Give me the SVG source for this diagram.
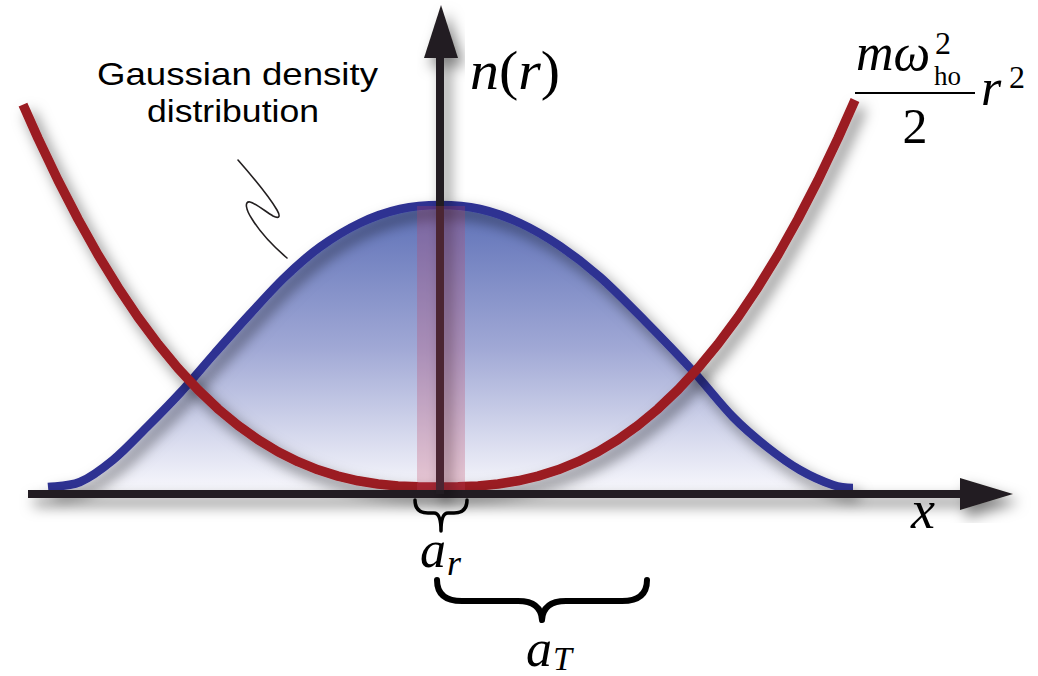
<svg xmlns="http://www.w3.org/2000/svg" width="1038" height="676" viewBox="0 0 1038 676">
<defs>
<linearGradient id="gfill" gradientUnits="userSpaceOnUse" x1="0" y1="205" x2="0" y2="490">
<stop offset="0" stop-color="#5d70b7"/>
<stop offset="0.5" stop-color="#a0a8d5"/>
<stop offset="1" stop-color="#f7f7fc"/>
</linearGradient>
<filter id="sh" x="-20%" y="-20%" width="140%" height="160%">
<feDropShadow dx="6" dy="8" stdDeviation="7" flood-color="#000" flood-opacity="0.5"/>
</filter>
</defs>
<style>
.math{font-family:"Liberation Serif","DejaVu Serif",serif;fill:#000}
.it{font-style:italic}
.sans{font-family:"Liberation Sans",Arial,sans-serif;fill:#000}
.blue{fill:none;stroke:#2e3192;stroke-width:8.5;stroke-linejoin:round}
.red{fill:none;stroke:#9b1b20;stroke-width:9.5;stroke-linejoin:round}
.axis{stroke:#231f20;stroke-width:8;fill:none}
.head{fill:#231f20}
.brace{fill:none;stroke:#000;stroke-linejoin:round;stroke-linecap:round}
</style>
<rect width="1038" height="676" fill="#fff"/>

<g id="gaussian">
<path fill="url(#gfill)" d="M48,487 C58,486 69.17,486.5 80,482 C90.83,477.5 101.83,469.17 113,460 C124.17,450.83 135.83,438.17 147,427 C158.17,415.83 168.67,405.33 180,393 C191.33,380.67 203.33,366.17 215,353 C226.67,339.83 238.33,326.67 250,314 C261.67,301.33 273.33,288.17 285,277 C296.67,265.83 307.5,256 320,247 C332.5,238 346.67,229.33 360,223 C373.33,216.67 386.67,212 400,209 C413.33,206 426.67,205 440,205 C453.33,205 466.67,206 480,209 C493.33,212 506.67,216.83 520,223 C533.33,229.17 546.67,237 560,246 C573.33,255 585.67,264.33 600,277 C614.33,289.67 630.67,306.5 646,322 C661.33,337.5 677.5,354.17 692,370 C706.5,385.83 720.5,404.17 733,417 C745.5,429.83 755.83,438.17 767,447 C778.17,455.83 789,463.67 800,470 C811,476.33 824.17,482 833,485 C841.83,488 847,488 853,488 L853,490 L48,490 Z"/>
<path class="blue" filter="url(#sh)" d="M48,487 C58,486 69.17,486.5 80,482 C90.83,477.5 101.83,469.17 113,460 C124.17,450.83 135.83,438.17 147,427 C158.17,415.83 168.67,405.33 180,393 C191.33,380.67 203.33,366.17 215,353 C226.67,339.83 238.33,326.67 250,314 C261.67,301.33 273.33,288.17 285,277 C296.67,265.83 307.5,256 320,247 C332.5,238 346.67,229.33 360,223 C373.33,216.67 386.67,212 400,209 C413.33,206 426.67,205 440,205 C453.33,205 466.67,206 480,209 C493.33,212 506.67,216.83 520,223 C533.33,229.17 546.67,237 560,246 C573.33,255 585.67,264.33 600,277 C614.33,289.67 630.67,306.5 646,322 C661.33,337.5 677.5,354.17 692,370 C706.5,385.83 720.5,404.17 733,417 C745.5,429.83 755.83,438.17 767,447 C778.17,455.83 789,463.67 800,470 C811,476.33 824.17,482 833,485 C841.83,488 847,488 853,488"/>
</g>

<g id="potential">
<polyline class="red" filter="url(#sh)" points="23,104.6 38,138.2 58,180.2 78,219 98,254.7 118,287.3 138,317.1 158,344 178,368.2 198,389.7 218,408.8 238,425.3 258,439.6 278,451.7 298,461.7 318,469.8 338,476.1 358,480.8 378,484 398,485.9 418,486.8 438,487 458,486.8 478,485.9 498,484 518,480.8 538,476.1 558,469.8 578,461.7 598,451.7 618,439.6 638,425.3 658,408.8 678,389.7 698,368.2 718,344 738,317.1 758,287.3 778,254.7 798,219 818,180.2 838,138.2 855,100"/>
</g>

<g id="x-axis" filter="url(#sh)">
<line class="axis" x1="28" y1="494" x2="962" y2="494"/>
<polygon class="head" points="960,478 1013,494 960,510"/>
</g>

<g id="n-axis" filter="url(#sh)">
<line class="axis" x1="440" y1="494" x2="440" y2="56"/>
<polygon class="head" points="424,58 441,5 458,58"/>
</g>

<g id="central-band">
<rect x="417" y="206" width="48" height="284" fill="#c24262" fill-opacity="0.26"/>
</g>

<g id="label-n"><text class="math" x="470" y="89" font-size="54" textLength="90" lengthAdjust="spacingAndGlyphs"><tspan class="it">n</tspan>(<tspan class="it">r</tspan>)</text></g>
<g id="label-x"><text class="math it" x="911" y="528" font-size="54">x</text></g>

<g id="label-potential">
<text class="math it" x="856" y="70" font-size="52">mω</text>
<text class="math" x="935" y="54" font-size="32">2</text>
<text class="math" x="934" y="85" font-size="27">ho</text>
<line x1="855" y1="93" x2="975" y2="93" stroke="#000" stroke-width="2.2"/>
<text class="math" x="915" y="143" font-size="50" text-anchor="middle">2</text>
<text class="math it" x="981" y="105" font-size="52">r</text>
<text class="math" x="1009" y="88" font-size="32">2</text>
</g>

<g id="label-gaussian">
<text class="sans" x="97" y="85" font-size="32" textLength="281" lengthAdjust="spacingAndGlyphs">Gaussian density</text>
<text class="sans" x="147" y="122" font-size="32" textLength="172" lengthAdjust="spacingAndGlyphs">distribution</text>
</g>

<g id="brace-ar">
<path class="brace" stroke-width="3.5" d="M415,500 Q415,513 428,513 L434,513 Q441,513 441,531 Q441,513 448,513 L454,513 Q467,513 467,500"/>
<text class="math it" x="420" y="567" font-size="52">a</text>
<text class="math it" x="447" y="575" font-size="36">r</text>
</g>

<g id="brace-aT">
<path class="brace" stroke-width="6" d="M437,580 Q437,601 462,601 L518,601 Q541,601 542,620 Q543,601 566,601 L622,601 Q647,601 647,580"/>
<text class="math it" x="526" y="666" font-size="52">a</text>
<text class="math it" x="553" y="670" font-size="34">T</text>
</g>

<g id="connectors">
<path fill="none" stroke="#231f20" stroke-width="1.6" stroke-linecap="round" d="M238,160 C252,176 270,198 277,210 C281,217 279,219 273,216 C265,211 255,203 250,202 C244,201 246,210 252,219 C260,232 273,246 287,258"/>
</g>
</svg>
